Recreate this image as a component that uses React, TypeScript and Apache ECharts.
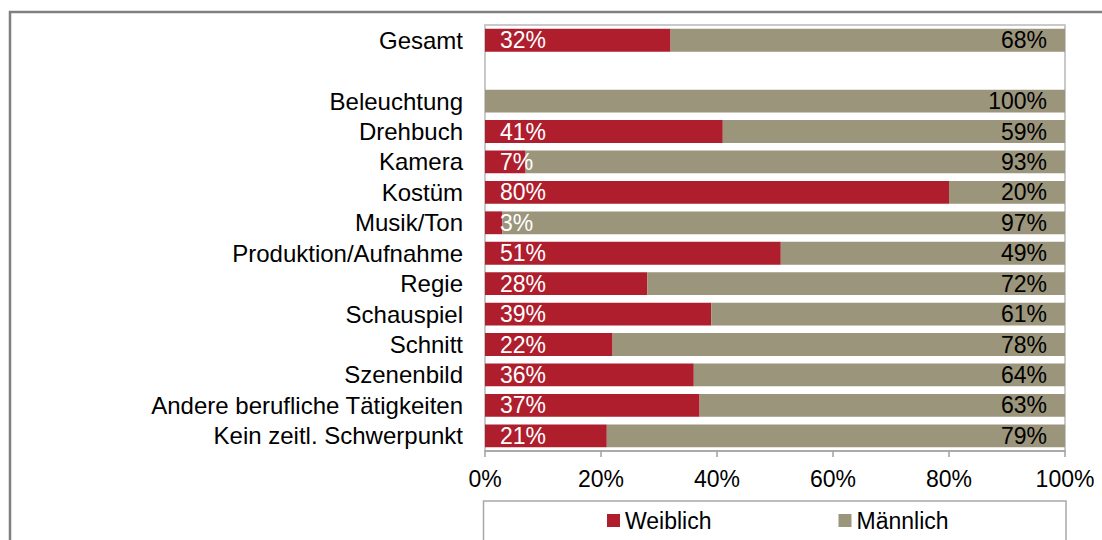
import React, { useEffect, useRef } from "react";
import * as echarts from "echarts";

const categories = [
  "Gesamt",
  "",
  "Beleuchtung",
  "Drehbuch",
  "Kamera",
  "Kostüm",
  "Musik/Ton",
  "Produktion/Aufnahme",
  "Regie",
  "Schauspiel",
  "Schnitt",
  "Szenenbild",
  "Andere berufliche Tätigkeiten",
  "Kein zeitl. Schwerpunkt",
];
const weiblich: (number | string)[] = [32, "-", 0, 41, 7, 80, 3, 51, 28, 39, 22, 36, 37, 21];
const maennlich: (number | string)[] = [68, "-", 100, 59, 93, 20, 97, 49, 72, 61, 78, 64, 63, 79];
const xTicks = { min: 0, max: 100, interval: 20 };

const FONT = "'Liberation Sans', Arial, sans-serif";
const FS = 23;
const RED = "#AE1E2D";
const TAN = "#9B957C";

export default function App() {
  const ref = useRef<HTMLDivElement>(null);
  useEffect(() => {
    document.body.style.margin = "0";
    const chart = echarts.init(ref.current!, undefined, { renderer: "svg" });
    chart.setOption({
      animation: false,
      textStyle: { fontFamily: FONT },
      grid: {
        left: 485,
        right: 37,
        top: 25,
        bottom: 89,
        show: true,
        borderColor: "#b8b8b8",
        borderWidth: 1.5,
        containLabel: false,
      },
      legend: {
        left: 607,
        top: 509,
        padding: 0,
        itemWidth: 13,
        itemHeight: 13,
        itemGap: 127,
        icon: "rect",
        textStyle: { fontSize: FS, color: "#000", fontFamily: FONT, lineHeight: 23 },
        data: ["Weiblich", "Männlich"],
      },
      xAxis: {
        type: "value",
        min: xTicks.min,
        max: xTicks.max,
        interval: xTicks.interval,
        axisLine: { show: true, lineStyle: { color: "#a0a0a0", width: 1.5 } },
        axisTick: { show: true, length: 6, lineStyle: { color: "#a0a0a0", width: 1.5 } },
        splitLine: { show: false },
        axisLabel: {
          formatter: "{value}%",
          fontSize: FS,
          color: "#000",
          fontFamily: FONT,
          margin: 16,
        },
      },
      yAxis: {
        type: "category",
        inverse: true,
        data: categories,
        axisLine: { show: true, lineStyle: { color: "#c8c8c8", width: 1.5 } },
        axisTick: { show: false },
        axisLabel: {
          fontSize: 24,
          color: "#000",
          fontFamily: FONT,
          margin: 22,
          interval: 0,
          hideOverlap: false,
        },
      },
      series: [
        {
          name: "Weiblich",
          type: "bar",
          stack: "total",
          barCategoryGap: "25%",
          itemStyle: { color: RED },
          data: weiblich,
          label: {
            show: true,
            position: "insideLeft",
            distance: 15,
            color: "#fff",
            fontSize: FS,
            fontFamily: FONT,
            formatter: (p: any) => (p.value === 0 || p.value === "-" ? "" : p.value + "%"),
          },
        },
        {
          name: "Männlich",
          type: "bar",
          stack: "total",
          barCategoryGap: "25%",
          itemStyle: { color: TAN },
          data: maennlich,
          label: {
            show: true,
            position: "insideRight",
            distance: 18,
            color: "#000",
            fontSize: FS,
            fontFamily: FONT,
            formatter: (p: any) => (p.value === "-" ? "" : p.value + "%"),
          },
        },
      ],
      graphic: [
        {
          type: "rect",
          shape: { x: 10, y: 12, width: 1200, height: 600 },
          style: { fill: "none", stroke: "#808080", lineWidth: 2.5 },
          silent: true,
        },
        {
          type: "rect",
          shape: { x: 483.5, y: 501, width: 582.5, height: 80 },
          style: { fill: "none", stroke: "#a8a8a8", lineWidth: 1.5 },
          silent: true,
        },
      ],
    });
    return () => chart.dispose();
  }, []);
  return <div ref={ref} style={{ width: 1102, height: 540 }} />;
}
